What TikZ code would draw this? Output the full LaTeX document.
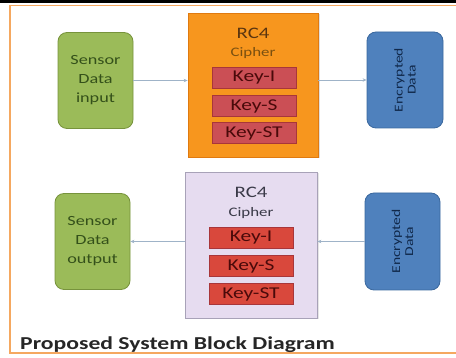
\documentclass[tikz,border=0pt]{standalone}
\usepackage{fontspec}
\setmainfont{Carlito}[FakeStretch=1.3]
\usetikzlibrary{arrows.meta,shadows}
\definecolor{frameor}{HTML}{F5A860}
\definecolor{greenf}{HTML}{9BBB59}
\definecolor{greend}{HTML}{77933C}
\definecolor{greent}{HTML}{34501A}
\definecolor{orf}{HTML}{F7961E}
\definecolor{ord}{HTML}{E07A10}
\definecolor{ort}{HTML}{5A3510}
\definecolor{ciphor}{HTML}{7A5010}
\definecolor{bluef}{HTML}{4F81BD}
\definecolor{blued}{HTML}{3A689E}
\definecolor{bluet}{HTML}{10284A}
\definecolor{purf}{HTML}{E6DCF0}
\definecolor{purd}{HTML}{A8A2B8}
\definecolor{purt}{HTML}{3A3A48}
\definecolor{keyf}{HTML}{CB4F55}
\definecolor{keyd}{HTML}{A8363A}
\definecolor{keyf2}{HTML}{D9483C}
\definecolor{keyt}{HTML}{4A0A0A}
\definecolor{arr}{HTML}{9FB3C8}
\tikzset{
  greenbox/.style={draw=greend, fill=greenf, rounded corners=9pt, line width=0.8pt,
    minimum width=75pt, minimum height=96pt, align=center, text=greent,
    font=\fontsize{14}{19}\selectfont},
  bluebox/.style={draw=blued, fill=bluef, rounded corners=9pt, line width=0.8pt,
    minimum width=76pt, minimum height=96pt},
  bluetext/.style={rotate=90, align=center, text=bluet, font=\fontsize{12}{13}\selectfont},
  cipherbox/.style={line width=0.8pt, minimum width=130pt, minimum height=144pt},
  keybox/.style={draw=keyd, line width=0.6pt, minimum width=84pt, minimum height=21pt,
    text=keyt, font=\fontsize{16.5}{18}\selectfont, inner sep=0pt},
  rctext/.style={font=\fontsize{16}{18}\selectfont},
  ciphtext/.style={font=\fontsize{13}{15}\selectfont},
  conn/.style={draw=arr, line width=0.7pt, -{Stealth[length=4pt,width=3.5pt]}}
}
\begin{document}
\begin{tikzpicture}[x=1pt,y=-1pt]
\useasboundingbox (0,0) rectangle (456,358);
\fill[black] (0,0) rectangle (456,3);
\draw[frameor, line width=1.4pt] (10,5.5) -- (460,5.5);
\draw[frameor, line width=1.4pt] (10,5.5) -- (10,353) -- (460,353);

% top row
\node[greenbox] (g1) at (95.5,80.5) {Sensor\\Data\\input};
\node[cipherbox, draw=ord, fill=orf, drop shadow={opacity=0.25,shadow xshift=1.5pt,shadow yshift=-1.5pt}] (o1) at (253,85) {};
\node[rctext, text=ort] (rc1) at (253,33) {RC4};
\node[ciphtext, text=ciphor] (c1) at (253,53) {Cipher};
\node[keybox, fill=keyf] (k1i) at (254,78) {Key-I};
\node[keybox, fill=keyf] (k1s) at (254,106) {Key-S};
\node[keybox, fill=keyf] (k1t) at (254,133) {Key-ST};
\node[bluebox] (b1) at (405,80) {};
\node[bluetext] (bt1) at (b1) {Encrypted\\Data};

% bottom row
\node[greenbox] (g2) at (92.5,241.5) {Sensor\\Data\\output};
\node[cipherbox, draw=purd, fill=purf, minimum width=132pt, minimum height=146pt,
  drop shadow={opacity=0.2,shadow xshift=1.5pt,shadow yshift=-1.5pt}] (p2) at (251,245) {};
\node[rctext, text=purt] (rc2) at (251,192) {RC4};
\node[ciphtext, text=purt] (c2) at (251,213) {Cipher};
\node[keybox, fill=keyf2] (k2i) at (251,238) {Key-I};
\node[keybox, fill=keyf2] (k2s) at (251,266) {Key-S};
\node[keybox, fill=keyf2] (k2t) at (251,294) {Key-ST};
\node[bluebox, minimum width=75pt, minimum height=97pt] (b2) at (402.5,241.5) {};
\node[bluetext] (bt2) at (b2) {Encrypted\\Data};

% connectors
\draw[conn] (g1.east) -- (g1.east -| o1.west);
\draw[conn] (o1.east |- b1.west) -- (b1.west);
\draw[conn] (b2.west) -- (b2.west -| p2.east);
\draw[conn] (p2.west |- g2.east) -- (g2.east);

\node[anchor=base west, inner sep=0pt, font=\bfseries\fontsize{18.2}{20}\selectfont, text=black!85] (title) at (20,350) {Proposed System Block Diagram};
\end{tikzpicture}
\end{document}
